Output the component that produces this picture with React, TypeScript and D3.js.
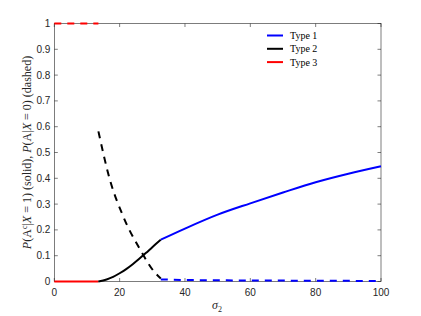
import React from 'react'
import * as d3 from 'd3'

// sigma_2 values and curves
const type3Solid: [number, number][] = [[0, 0], [13.5, 0]]
const type3Dashed: [number, number][] = [[0, 1], [13.5, 1]]
const type2Solid: [number, number][] = [
  [13.5, 0], [16, 0.008], [18, 0.018], [20, 0.032], [22, 0.048], [24, 0.067],
  [26, 0.088], [28, 0.11], [30, 0.133], [32.6, 0.162],
]
const type2Dashed: [number, number][] = [
  [13.5, 0.582], [17, 0.395], [21, 0.255], [26.3, 0.123], [30.9, 0.033], [32.6, 0.012],
]
const type1Solid: [number, number][] = [
  [32.6, 0.162], [40, 0.205], [50, 0.259], [60, 0.303], [70, 0.345], [80, 0.385],
  [90, 0.418], [100, 0.447],
]
const type1Dashed: [number, number][] = [
  [32.6, 0.008], [40, 0.006], [60, 0.004], [80, 0.003], [100, 0.002],
]
const xTicks = [0, 20, 40, 60, 80, 100]
const yTicks = [0, 0.1, 0.2, 0.3, 0.4, 0.5, 0.6, 0.7, 0.8, 0.9, 1]
const legendItems = [
  { label: 'Type 1', color: '#0000ff' },
  { label: 'Type 2', color: '#000000' },
  { label: 'Type 3', color: '#ff0000' },
]

export default function App() {
  const W = 421, H = 316
  const m = { left: 54.3, right: 40, top: 23.5, bottom: 34.5 }
  const x = d3.scaleLinear().domain([0, 100]).range([m.left, W - m.right])
  const y = d3.scaleLinear().domain([0, 1]).range([H - m.bottom, m.top])
  const line = d3.line<[number, number]>().x(d => x(d[0])).y(d => y(d[1])).curve(d3.curveMonotoneX)
  const axisColor = '#262626'
  const tickFont = 'Liberation Sans, Arial, sans-serif'
  const serif = 'Liberation Serif, Times New Roman, serif'
  const dash = '7,6'

  const series = [
    { d: type3Solid, c: '#ff0000', dashed: false },
    { d: type3Dashed, c: '#ff0000', dashed: true },
    { d: type2Solid, c: '#000000', dashed: false },
    { d: type2Dashed, c: '#000000', dashed: true },
    { d: type1Solid, c: '#0000ff', dashed: false },
    { d: type1Dashed, c: '#0000ff', dashed: true },
  ]

  return (
    <svg width={W} height={H} style={{ position: 'absolute', left: 0, top: 0, background: '#fff' }}>
      <rect x={0} y={0} width={W} height={H} fill="#fff" />
      {/* ticks */}
      {xTicks.map(t => (
        <g key={'x' + t}>
          <line x1={x(t)} x2={x(t)} y1={y(0)} y2={y(0) - 3.5} stroke={axisColor} strokeWidth={0.6} />
          <line x1={x(t)} x2={x(t)} y1={y(1)} y2={y(1) + 3.5} stroke={axisColor} strokeWidth={0.6} />
          <text x={x(t)} y={y(0) + 14} textAnchor="middle" fontSize={10} fontFamily={tickFont} fill={axisColor}>{t}</text>
        </g>
      ))}
      {yTicks.map(t => (
        <g key={'y' + t}>
          <line x1={x(0)} x2={x(0) + 3.5} y1={y(t)} y2={y(t)} stroke={axisColor} strokeWidth={0.6} />
          <line x1={x(100)} x2={x(100) - 3.5} y1={y(t)} y2={y(t)} stroke={axisColor} strokeWidth={0.6} />
          <text x={x(0) - 4} y={y(t) + 3.5} textAnchor="end" fontSize={10} fontFamily={tickFont} fill={axisColor}>{d3.format('~g')(t)}</text>
        </g>
      ))}
      <rect x={x(0)} y={y(1)} width={x(100) - x(0)} height={y(0) - y(1)} fill="none" stroke={axisColor} strokeWidth={0.6} />
      {/* data lines */}
      {series.map((s, i) => (
        <path key={i} d={line(s.d) || ''} fill="none" stroke={s.c} strokeWidth={2}
          strokeDasharray={s.dashed ? dash : undefined} />
      ))}
      {/* legend */}
      {legendItems.map((it, i) => (
        <g key={it.label}>
          <line x1={267} x2={283} y1={35.5 + i * 13.3} y2={35.5 + i * 13.3} stroke={it.color} strokeWidth={2} />
          <text x={290} y={39 + i * 13.3} fontSize={10} fontFamily={serif} fill="#000">{it.label}</text>
        </g>
      ))}
      {/* axis labels */}
      <text x={217} y={309} textAnchor="middle" fontSize={12} fontFamily={serif} fontStyle="italic" fill={axisColor}>
        σ<tspan fontSize={8} fontStyle="normal" dy={2.5}>2</tspan>
      </text>
      <text transform={`translate(31, ${(y(0) + y(1)) / 2}) rotate(-90)`} textAnchor="middle" fontSize={12} fontFamily={serif} fill={axisColor}>
        <tspan fontStyle="italic">P</tspan>(A<tspan fontSize={8} dy={-4}>c</tspan><tspan dy={4}>|</tspan><tspan fontStyle="italic">X</tspan> = 1) (solid), <tspan fontStyle="italic">P</tspan>(A|<tspan fontStyle="italic">X</tspan> = 0) (dashed)
      </text>
    </svg>
  )
}
